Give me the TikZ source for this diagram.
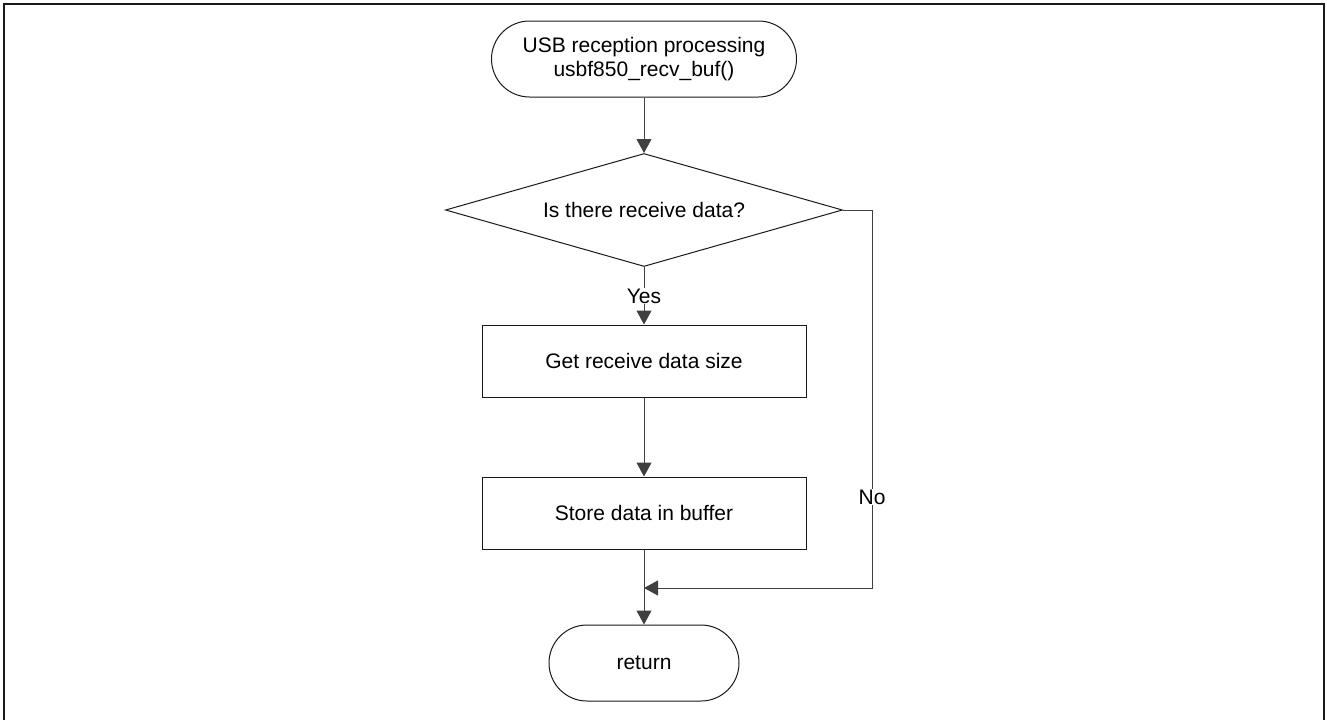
\documentclass[tikz,border=0pt]{standalone}
\usepackage{fontspec}
\setmainfont{Liberation Sans}
\usetikzlibrary{arrows.meta, positioning, shapes.geometric}
\definecolor{mainBlack}{gray}{0.1}
\definecolor{lineGray}{gray}{0.25}

\tikzset{
  termBox/.style={draw=mainBlack, line width=1pt, rounded corners=38pt, minimum width=190pt, minimum height=76pt, align=center, inner sep=0pt},
  procBox/.style={draw=mainBlack, line width=1pt, minimum width=324pt, minimum height=72pt, inner sep=0pt},
  decBox/.style={draw=mainBlack, line width=1pt, diamond, aspect=3.5, minimum width=397pt, minimum height=113pt, inner sep=0pt},
  flowLine/.style={draw=lineGray, line width=1pt},
  flowArrow/.style={flowLine, -{Triangle[length=14pt, width=15pt]}},
  lbl/.style={fill=white, inner sep=1pt}
}

\begin{document}
\begin{tikzpicture}[x=1pt, y=-1pt, font=\fontsize{21}{24}\selectfont]
        \useasboundingbox (0,0) rectangle (1327,720);
        % 枠
        \draw[mainBlack, line width=2pt] (4,720) -- (4,4) -- (1324,4) -- (1324,720);

        % ノード
        \node[termBox, minimum width=305pt] (start) at (644,59) {USB reception processing\\usbf850\_recv\_buf()};
        \node[decBox] (check) at (644,210) {Is there receive data?};
        \node[procBox] (getSize) at (644,361) {Get receive data size};
        \node[procBox] (store) at (644,513) {Store data in buffer};
        \node[termBox] (ret) at (644,663) {return};
        \coordinate (join) at (644,588);
        \coordinate (noTurn) at (872,588);

        % 接続
        \draw[flowArrow] (start) -- (check);
        \draw[flowArrow] (check) -- (getSize);
        \draw[flowArrow] (getSize) -- (store);
        \draw[flowLine] (store) -- (join);
        \draw[flowArrow] (join) -- (ret);
        \draw[flowArrow] (check.east) -| (noTurn) -- (join);

        % ラベル
        \node[lbl] (yes) at (644,296) {Yes};
        \node[lbl] (no) at (872,497) {No};
    \end{tikzpicture}
\end{document}
